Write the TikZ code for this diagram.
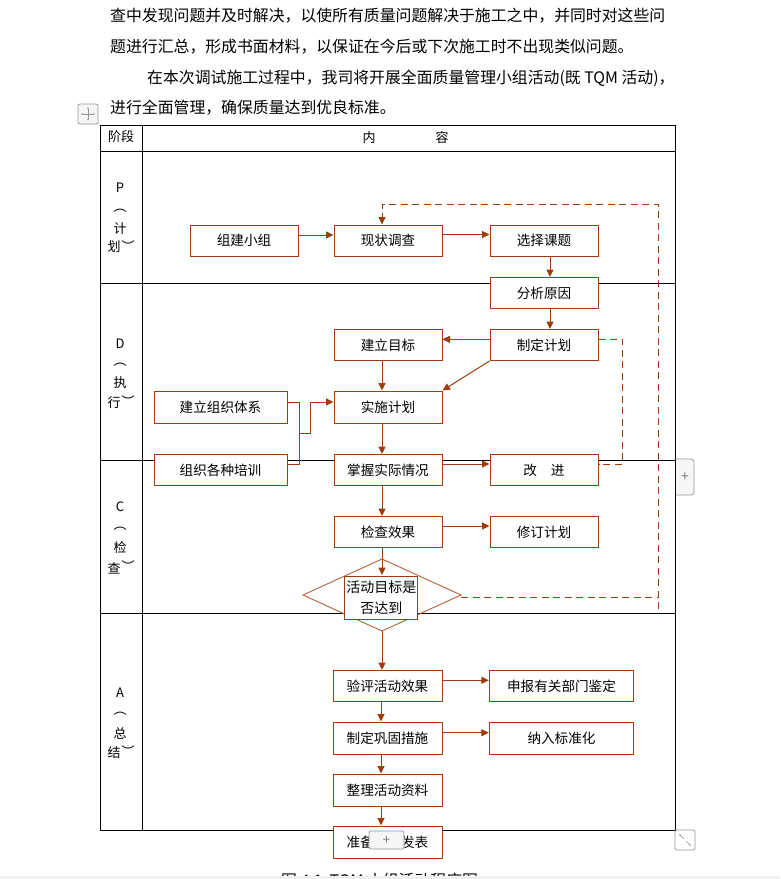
\documentclass[tikz,border=0pt]{standalone}
\usepackage{fontspec}
\setmainfont{Noto Sans CJK SC}
\usetikzlibrary{arrows.meta,shapes.geometric,calc}
\definecolor{brn}{RGB}{160,60,10}
\definecolor{brnl}{RGB}{185,95,55}
\definecolor{uigray}{RGB}{150,150,150}
\definecolor{uifill}{RGB}{246,246,246}
\begin{document}
\begin{tikzpicture}[x=1pt,y=-1pt,
 box/.style={draw=brn, line width=1pt, fill=white, minimum height=31pt, minimum width=108pt, inner sep=0pt, font=\fontsize{13.6pt}{14pt}\selectfont},
 arr/.style={draw=brn, line width=1pt, -{Triangle[length=7.5pt,width=7pt]}},
 ln/.style={draw=brn, line width=1pt},
 dsh/.style={draw=brn, line width=1pt, dash pattern=on 7pt off 4.5pt},
 tbl/.style={draw=black, line width=1pt},
 stg/.style={font=\fontsize{13pt}{13pt}\selectfont, inner sep=0pt},
 body/.style={anchor=west, inner sep=0pt, font=\fontsize{15.86pt}{16pt}\selectfont},
 ui/.style={draw=uigray, line width=0.7pt, fill=uifill},
]
\useasboundingbox (0,0) rectangle (780,879);
\fill[white] (0,0) rectangle (780,879);

% body text
\node[body] (t1) at (110,16) {查中发现问题并及时解决，以使所有质量问题解决于施工之中，并同时对这些问};
\node[body] (t2) at (110,47) {题进行汇总，形成书面材料，以保证在今后或下次施工时不出现类似问题。};
\node[body] (t3) at (147,78) {在本次调试施工过程中，我司将开展全面质量管理小组活动(既 TQM 活动)，};
\node[body] (t4) at (110,108) {进行全面管理，确保质量达到优良标准。};

% table
\draw[tbl] (100,125) rectangle (675,830);
\draw[tbl] (142,125) -- (142,830);
\foreach \yy in {151,283,460,613} \draw[tbl] (100,\yy) -- (675,\yy);
\node[stg] (h1) at (121,137) {阶段};
\node[stg] (h2) at (405.5,138) {内\hspace{60pt}容};

% stage labels
\node[stg] (p1) at (120,188) {P};
\node[stg] (p2) at (120,211) {︵};
\node[stg] (p3) at (120,229) {计};
\node[stg] (p4) at (114,247) {划};
\node[stg] (p5) at (128,246) {︶};

\node[stg] (d1) at (120,344) {D};
\node[stg] (d2) at (120,365) {︵};
\node[stg] (d3) at (120,383) {执};
\node[stg] (d4) at (114,403) {行};
\node[stg] (d5) at (128,401) {︶};

\node[stg] (c1) at (120,507) {C};
\node[stg] (c2) at (120,529) {︵};
\node[stg] (c3) at (120,547) {检};
\node[stg] (c4) at (114,568) {查};
\node[stg] (c5) at (128,566) {︶};

\node[stg] (a1) at (120,693) {A};
\node[stg] (a2) at (120,714) {︵};
\node[stg] (a3) at (120,733) {总};
\node[stg] (a4) at (114,753) {结};
\node[stg] (a5) at (128,751) {︶};

% boxes
\node[box] (zj) at (244,240.5) {组建小组};
\node[box] (xz) at (388,240.5) {现状调查};
\node[box] (xk) at (544,240.5) {选择课题};
\node[box] (fx) at (544,293) {分析原因};
\node[box] (zd) at (544,345) {制定计划};
\node[box] (jm) at (388,345) {建立目标};
\node[box, minimum height=32pt] (ss) at (388,407) {实施计划};
\node[box, minimum width=133pt, minimum height=32pt] (jt) at (220.5,407) {建立组织体系};
\node[box, minimum width=133pt] (px) at (220.5,470) {组织各种培训};
\node[box] (zw) at (388,470) {掌握实际情况};
\node[box] (gj) at (544,470) {改\hspace{14pt}进};
\node[box] (jc) at (388,532) {检查效果};
\node[box] (xd) at (544,532) {修订计划};

% decision diamond
\coordinate (dN) at (382,559);
\coordinate (dE) at (461,595);
\coordinate (dS) at (382,631);
\coordinate (dW) at (303,595);
\draw[draw=brnl, line width=0.9pt] (dN) -- (dE) -- (dS) -- (dW) -- cycle;
\coordinate (dIn) at (382,575);
\draw[arr] ([xshift=-6pt]jc.south) -- (dIn);
\node[draw=brn, line width=1pt, fill=white, minimum width=73pt, minimum height=42.6pt, inner sep=0pt, align=center, font=\fontsize{14pt}{21pt}\selectfont] (dt) at (381.3,598) {活动目标是\\否达到};

\node[box, minimum width=109pt] (yp) at (387.5,686) {验评活动效果};
\node[box, minimum width=109pt, minimum height=32pt] (zg) at (387.5,738) {制定巩固措施};
\node[box, minimum width=109pt, minimum height=32pt] (zl) at (387.5,790) {整理活动资料};
\node[box, minimum width=109pt, minimum height=32pt] (zb) at (387.5,842) {准备成果发表};
\node[box, minimum width=144.4pt] (sb) at (561.5,686) {申报有关部门鉴定};
\node[box, minimum width=144.4pt, minimum height=32pt] (nr) at (561.5,738) {纳入标准化};

% connectors
\draw[arr] ([yshift=5.5pt]zj.east) -- ([yshift=5.5pt]xz.west);
\draw[arr] ([yshift=6pt]xz.east) -- ([yshift=6pt]xk.west);
\draw[arr] ([xshift=6pt]xk.south) -- ([xshift=6pt]fx.north);
\draw[arr] ([xshift=6pt]fx.south) -- ([xshift=6pt]zd.north);
\draw[arr] ([yshift=5.7pt]zd.west) -- ([yshift=5.7pt]jm.east);
\draw[arr] (zd.south west) -- (ss.north east);
\draw[arr] ([xshift=-6pt]jm.south) -- ([xshift=-6pt]ss.north);
\draw[ln] ([yshift=5pt]jt.east) -- ++(11.5,0) |- ([yshift=6pt]px.east);
\coordinate (jn) at (298.5,433);
\draw[arr] (jn) -- ++(12,0) |- ([yshift=5pt]ss.west);
\draw[arr] ([xshift=-6pt]ss.south) -- ([xshift=-6pt]zw.north);
\draw[arr] ([yshift=6pt]zw.east) -- ([yshift=6pt]gj.west);
\draw[arr] ([xshift=-6pt]zw.south) -- ([xshift=-6pt]jc.north);
\draw[arr] ([yshift=6pt]jc.east) -- ([yshift=6pt]xd.west);
\draw[arr] (dS) -- (dS |- yp.north);
\draw[arr] ([xshift=-6.5pt]yp.south) -- ([xshift=-6.5pt]zg.north);
\draw[arr] ([xshift=-6.5pt]zg.south) -- ([xshift=-6.5pt]zl.north);
\draw[arr] ([xshift=-6.5pt]zl.south) -- ([xshift=-6.5pt]zb.north);
\draw[arr] ([yshift=5.7pt]yp.east) -- ([yshift=5.7pt]sb.west);
\draw[arr] ([yshift=5.3pt]zg.east) -- ([yshift=5.3pt]nr.west);

% dashed feedback lines
\draw[dsh] ([yshift=5.7pt]zd.east) -- ++(24,0) -- ++(0,124.7) -- ([yshift=6pt]gj.east);
\draw[dsh] ([yshift=-2pt]dE) -- ++(197,0);
\coordinate (rb) at (658,609);
\draw[dsh, -{Triangle[length=7.5pt,width=7pt]}] (rb) -- (658,204) -| ([xshift=-6pt]xz.north);

% UI widgets
\draw[ui, rounded corners=2pt] (78,104) rectangle (98,124);
\draw[uigray, line width=0.6pt, {Stealth[length=2.5pt]}-{Stealth[length=2.5pt]}] (88,107) -- (88,121);
\draw[uigray, line width=0.6pt, {Stealth[length=2.5pt]}-{Stealth[length=2.5pt]}] (81,114) -- (95,114);

\draw[ui, rounded corners=3pt] (676,459) -- (694,459) -- (694,495) -- (676,495);
\node[text=uigray!80!black, font=\fontsize{14pt}{14pt}\selectfont, inner sep=0pt] (plr) at (685,477) {+};

\draw[ui, rounded corners=2pt] (369,831) rectangle (404,849);
\node[text=uigray!80!black, font=\fontsize{13pt}{13pt}\selectfont, inner sep=0pt] (plb) at (386.5,840) {+};

\draw[ui, fill=white, rounded corners=2pt] (675,830) rectangle (695,850);
\draw[uigray, line width=0.6pt, {Stealth[length=2.5pt]}-] (679,834) -- (684,839);
\draw[uigray, line width=0.6pt, -{Stealth[length=2.5pt]}] (686,841) -- (691,846);

% clipped caption and bottom band
\begin{scope}
\clip (0,860) rectangle (780,876);
\node[body] (cap) at (281,881) {图 4.1\ \ TQM 小组活动程序图};
\end{scope}
\fill[gray!12] (0,876) rectangle (780,879);
\end{tikzpicture}
\end{document}
